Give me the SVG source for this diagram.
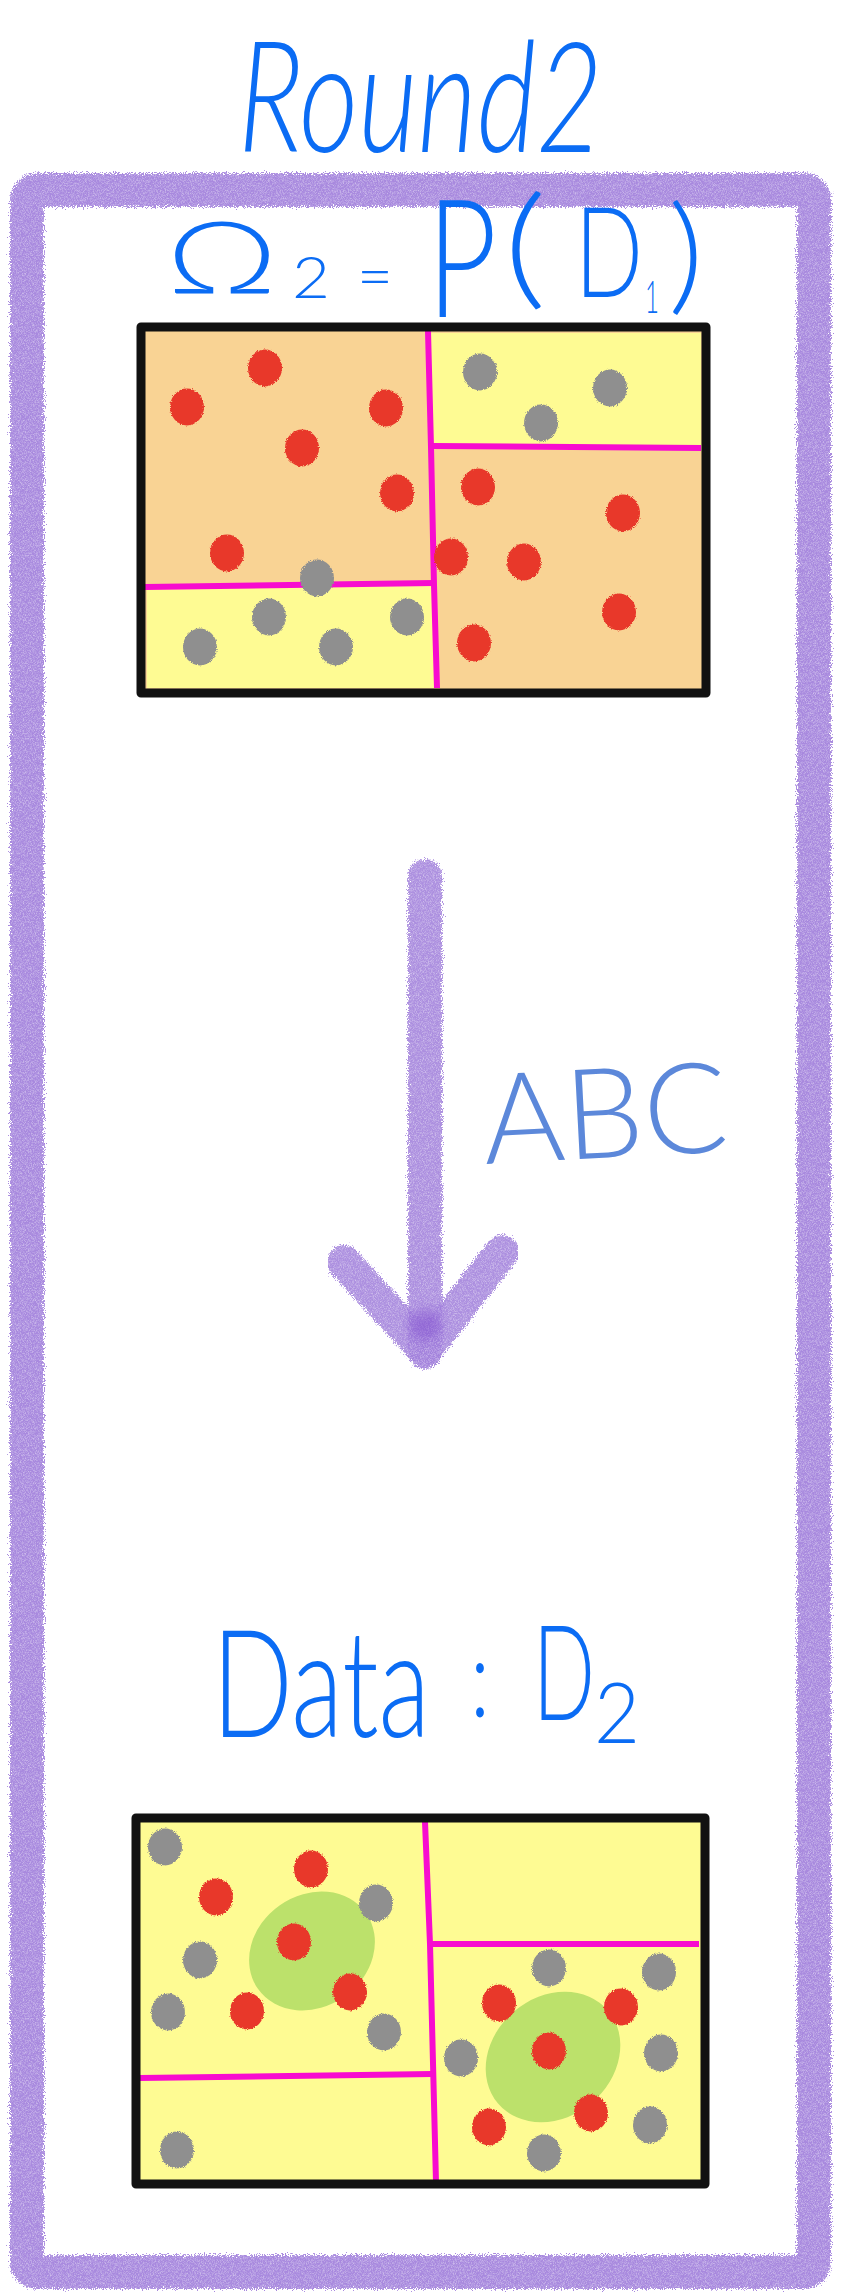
<svg xmlns="http://www.w3.org/2000/svg" width="841" height="2296" viewBox="0 0 841 2296">
<defs>
<style>
.hand{font-family:"Lato","Liberation Sans","DejaVu Sans",sans-serif;font-weight:300;fill:#0b6cf4;}
.abc{font-family:"Lato","Liberation Sans","DejaVu Sans",sans-serif;font-weight:300;fill:#4a7bd6;fill-opacity:0.9;}
.red{fill:#e8372a;}
.gray{fill:#8f8f8f;}
.mag{fill:none;stroke:#f70ccf;stroke-width:6;stroke-linecap:butt;}
.border{fill:none;stroke:#111;stroke-width:9;stroke-linejoin:round;}
.orange{fill:#f9d394;}
.yellow{fill:#fefb93;}
.blob{fill:#bce16b;}
.purple{fill:none;stroke:#a383dc;stroke-linecap:round;stroke-linejoin:round;}
</style>
<filter id="spray" x="-10%" y="-10%" width="120%" height="120%">
<feTurbulence type="fractalNoise" baseFrequency="0.9" numOctaves="2" seed="4" result="n"/>
<feDisplacementMap in="SourceGraphic" in2="n" scale="10" xChannelSelector="R" yChannelSelector="G" result="d"/>
<feTurbulence type="fractalNoise" baseFrequency="1.4" numOctaves="1" seed="9" result="g"/>
<feColorMatrix in="g" type="matrix" values="0 0 0 0 1  0 0 0 0 1  0 0 0 0 1  0 0 0 -1.1 1.45" result="ga"/>
<feComposite in="d" in2="ga" operator="in"/>
</filter>
<filter id="fuzz" x="-20%" y="-20%" width="140%" height="140%">
<feTurbulence type="fractalNoise" baseFrequency="1.2" numOctaves="1" seed="2" result="n"/>
<feDisplacementMap in="SourceGraphic" in2="n" scale="4" xChannelSelector="R" yChannelSelector="G"/>
</filter>
<filter id="soft" x="-50%" y="-50%" width="200%" height="200%">
<feGaussianBlur stdDeviation="6"/>
</filter>
</defs>
<rect width="841" height="2296" fill="#ffffff"/>

<g id="frame" filter="url(#spray)">
<rect x="27" y="190" width="787" height="2082" rx="10" class="purple" stroke-width="34" stroke-opacity="0.95"/>
</g>

<g id="title">
<text class="hand" x="238" y="152" font-size="155" font-style="italic" textLength="365" lengthAdjust="spacingAndGlyphs">Round2</text>
</g>

<g id="formula">
<text class="hand"><tspan x="166" y="293" font-size="100" textLength="112" lengthAdjust="spacingAndGlyphs">Ω</tspan><tspan x="292" y="298" font-size="57" textLength="38" lengthAdjust="spacingAndGlyphs">2</tspan><tspan x="357" y="298" font-size="62" textLength="36" lengthAdjust="spacingAndGlyphs">=</tspan><tspan x="427" y="317" font-size="163" textLength="70" lengthAdjust="spacingAndGlyphs">P</tspan><tspan x="503" y="292" font-size="133" textLength="44" lengthAdjust="spacingAndGlyphs">(</tspan><tspan x="575" y="297" font-size="126" textLength="68" lengthAdjust="spacingAndGlyphs">D</tspan><tspan x="645" y="313" font-size="46" textLength="14" lengthAdjust="spacingAndGlyphs">1</tspan><tspan x="668" y="298" font-size="128" textLength="36" lengthAdjust="spacingAndGlyphs">)</tspan></text>
</g>

<g id="box-top">
<rect x="141" y="327" width="565" height="366" class="orange"/>
<polygon class="yellow" points="430,333 701,333 701,447 432,447"/>
<polygon class="yellow" points="147,586 434,583 437,688 147,688"/>
<path class="mag" d="M428,331 L431,447 L434,585 L437,688"/>
<path class="mag" d="M432,446 L701,448"/>
<path class="mag" d="M145,587 L434,583"/>
<g filter="url(#fuzz)">
<ellipse class="red" cx="265" cy="368" rx="17" ry="18.5"/>
<ellipse class="red" cx="187" cy="407" rx="17" ry="18.5"/>
<ellipse class="red" cx="386" cy="408" rx="17" ry="18.5"/>
<ellipse class="red" cx="302" cy="448" rx="17" ry="18.5"/>
<ellipse class="red" cx="397" cy="493" rx="17" ry="18.5"/>
<ellipse class="red" cx="227" cy="553" rx="17" ry="18.5"/>
<ellipse class="red" cx="478" cy="487" rx="17" ry="18.5"/>
<ellipse class="red" cx="623" cy="513" rx="17" ry="18.5"/>
<ellipse class="red" cx="451" cy="557" rx="17" ry="18.5"/>
<ellipse class="red" cx="524" cy="562" rx="17" ry="18.5"/>
<ellipse class="red" cx="619" cy="612" rx="17" ry="18.5"/>
<ellipse class="red" cx="474" cy="643" rx="17" ry="18.5"/>
<ellipse class="gray" cx="480" cy="372" rx="17" ry="18.5"/>
<ellipse class="gray" cx="610" cy="388" rx="17" ry="18.5"/>
<ellipse class="gray" cx="541" cy="423" rx="17" ry="18.5"/>
<ellipse class="gray" cx="317" cy="578" rx="17" ry="18.5"/>
<ellipse class="gray" cx="269" cy="617" rx="17" ry="18.5"/>
<ellipse class="gray" cx="407" cy="617" rx="17" ry="18.5"/>
<ellipse class="gray" cx="200" cy="647" rx="17" ry="18.5"/>
<ellipse class="gray" cx="336" cy="647" rx="17" ry="18.5"/>
</g>
<rect x="141" y="327" width="565" height="366" class="border"/>
</g>

<g id="connectors">
<g filter="url(#spray)">
<path class="purple" d="M425,876 L425,1352" stroke-width="34" stroke="#ad8ae0" stroke-opacity="0.9"/>
<path class="purple" d="M344,1262 L425,1350 L502,1252" stroke-width="34" stroke="#ad8ae0" stroke-opacity="0.9"/>
</g>
<circle cx="425" cy="1325" r="16" fill="#8452d0" fill-opacity="0.55" filter="url(#soft)"/>
</g>

<g id="label-abc">
<text class="abc" x="485" y="1164" font-size="126" textLength="245" lengthAdjust="spacingAndGlyphs" transform="rotate(-3 485 1164)">ABC</text>
</g>

<g id="data-label">
<text class="hand"><tspan x="212" y="1737" font-size="150" textLength="218" lengthAdjust="spacingAndGlyphs">Data</tspan><tspan x="470" y="1717" font-size="110" textLength="20" lengthAdjust="spacingAndGlyphs">:</tspan><tspan x="533" y="1720" font-size="133" textLength="62" lengthAdjust="spacingAndGlyphs">D</tspan><tspan x="594" y="1743" font-size="85" textLength="46" lengthAdjust="spacingAndGlyphs">2</tspan></text>
</g>

<g id="box-bottom">
<rect x="136" y="1818" width="569" height="366" class="yellow"/>
<ellipse class="blob" cx="312" cy="1951" rx="66" ry="56" transform="rotate(-35 312 1951)"/>
<ellipse class="blob" cx="553" cy="2057" rx="72" ry="60" transform="rotate(-40 553 2057)"/>
<path class="mag" d="M425,1822 L430,1944 L436,2182"/>
<path class="mag" d="M428,1944 L699,1944"/>
<path class="mag" d="M140,2078 L432,2074"/>
<g filter="url(#fuzz)">
<ellipse class="gray" cx="165" cy="1847" rx="17" ry="18.5"/>
<ellipse class="gray" cx="376" cy="1903" rx="17" ry="18.5"/>
<ellipse class="gray" cx="200" cy="1960" rx="17" ry="18.5"/>
<ellipse class="gray" cx="168" cy="2012" rx="17" ry="18.5"/>
<ellipse class="gray" cx="384" cy="2032" rx="17" ry="18.5"/>
<ellipse class="gray" cx="177" cy="2150" rx="17" ry="18.5"/>
<ellipse class="gray" cx="549" cy="1968" rx="17" ry="18.5"/>
<ellipse class="gray" cx="659" cy="1972" rx="17" ry="18.5"/>
<ellipse class="gray" cx="461" cy="2058" rx="17" ry="18.5"/>
<ellipse class="gray" cx="661" cy="2053" rx="17" ry="18.5"/>
<ellipse class="gray" cx="650" cy="2125" rx="17" ry="18.5"/>
<ellipse class="gray" cx="544" cy="2153" rx="17" ry="18.5"/>
<ellipse class="red" cx="311" cy="1869" rx="17" ry="18.5"/>
<ellipse class="red" cx="216" cy="1897" rx="17" ry="18.5"/>
<ellipse class="red" cx="294" cy="1942" rx="17" ry="18.5"/>
<ellipse class="red" cx="350" cy="1992" rx="17" ry="18.5"/>
<ellipse class="red" cx="247" cy="2011" rx="17" ry="18.5"/>
<ellipse class="red" cx="499" cy="2003" rx="17" ry="18.5"/>
<ellipse class="red" cx="621" cy="2007" rx="17" ry="18.5"/>
<ellipse class="red" cx="549" cy="2051" rx="17" ry="18.5"/>
<ellipse class="red" cx="489" cy="2127" rx="17" ry="18.5"/>
<ellipse class="red" cx="591" cy="2113" rx="17" ry="18.5"/>
</g>
<rect x="136" y="1818" width="569" height="366" class="border"/>
</g>
</svg>
